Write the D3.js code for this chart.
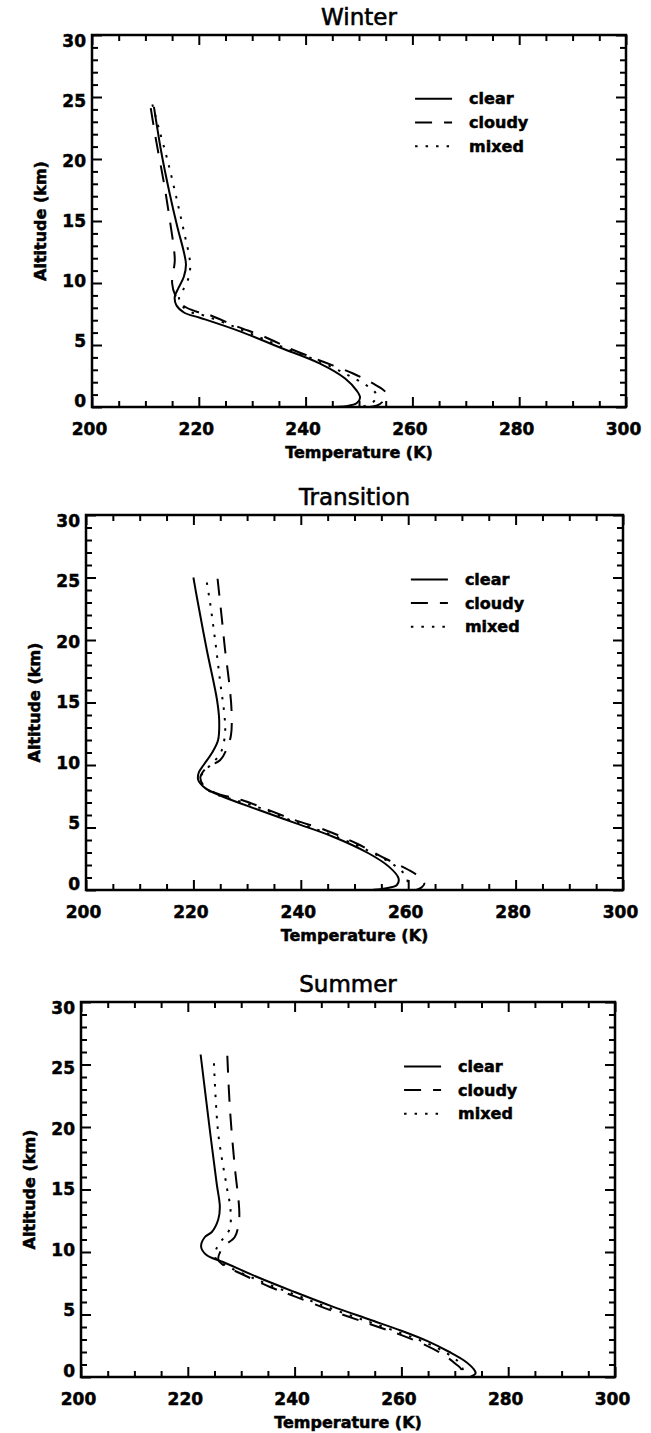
<!DOCTYPE html>
<html>
<head>
<meta charset="utf-8">
<script src="https://cdn.jsdelivr.net/npm/d3@7"></script>
<style>
  body { margin: 0; background: #fff; }
  svg text { font-family: "DejaVu Sans", sans-serif; font-weight: bold; fill: #000; stroke: #000; stroke-width: 0.5px; }
  .tick text { font-size: 17px; }
  .tick line { stroke: #000; stroke-width: 2; }
  text.title { font-weight: normal; stroke-width: 0.6px; }
</style>
</head>
<body>
<div id="container"></div>
<script>
const WIDTH = 651;
const HEIGHT = 1433;

const seasons = ["Winter", "Transition", "Summer"];
const conditions = ["clear", "cloudy", "mixed"];
const xTicks = [200, 220, 240, 260, 280, 300];
const yTicks = [0, 5, 10, 15, 20, 25, 30];

// [temperature K, altitude km], top of profile first
const winterClear = [[211.6,24.2],[213.0,20.5],[214.5,17.3],[216.0,14.5],[217.2,12.5],[217.6,11.5],[217.2,10.5],[216.2,9.6],[215.5,8.9],[215.8,8.2],[217.3,7.6],[220.2,7.2],[227.7,6.1],[235.2,4.8],[242.7,3.5],[247.4,2.3],[249.6,1.3],[250.2,0.75],[249.6,0.32],[247.8,0.08],[243.5,0]];
const winterCloudy = [[211.0,24.1],[212.0,21.5],[213.5,18.0],[214.6,15.0],[215.3,12.9],[215.5,11.8],[215.2,10.8],[215.0,10.0],[215.6,9.0],[217.0,8.2],[219.5,7.7],[221.5,7.5],[227.1,6.5],[232.1,5.7],[237.7,4.6],[243.3,3.65],[248.9,2.7],[252.6,1.9],[254.5,1.4],[255.2,1.0],[254.6,0.5],[253.4,0.12],[252.0,0]];
const winterMixed = [[211.3,24.4],[212.5,22.5],[214.2,19.8],[215.9,16.7],[217.4,13.8],[218.2,12.2],[218.4,11.3],[218.0,10.3],[217.0,9.4],[216.3,8.8],[217.0,8.1],[218.8,7.6],[220.8,7.4],[226.5,6.5],[232.0,5.5],[237.6,4.5],[243.0,3.6],[247.8,2.6],[251.2,1.8],[253.0,1.2],[253.3,0.8],[252.5,0.35],[250.5,0]];

const transClear = [[220.0,25.0],[220.7,23.3],[222.5,19.2],[224.4,15.2],[224.8,13.6],[224.6,12.0],[223.5,11.0],[221.9,10.0],[221.0,9.4],[220.9,8.8],[222.2,8.15],[225.3,7.5],[232.2,6.4],[239.0,5.35],[245.8,4.3],[252.6,2.94],[256.4,1.87],[258.2,0.94],[257.9,0.4],[255.7,0.13],[253.5,0.03]];
const transCloudy = [[224.5,24.9],[225.3,21.7],[225.9,19.2],[226.6,16.8],[227.1,14.4],[227.0,12.4],[226.3,11.4],[225.0,10.4],[222.5,9.8],[221.3,9.0],[222.0,8.3],[224.5,7.7],[229.0,7.2],[238.8,5.6],[244.5,4.8],[250.5,3.7],[255.8,2.5],[260.1,1.6],[262.2,1.0],[263.0,0.5],[262.3,0.15],[261.5,0]];
const transMixed = [[222.5,24.6],[223.1,23.0],[224.1,19.8],[225.0,16.6],[225.8,13.9],[225.9,12.6],[225.3,11.2],[224.1,10.4],[222.3,9.6],[221.3,9.0],[221.8,8.3],[224.0,7.7],[227.0,7.3],[233.5,6.4],[238.0,5.6],[244.5,4.6],[250.3,3.6],[255.0,2.6],[258.0,1.8],[259.6,1.1],[259.9,0.5],[259.4,0]];

const summerClear = [[222.4,25.8],[224.2,19.5],[225.4,15.5],[226.0,13.6],[225.7,12.6],[224.5,11.6],[223.2,11.2],[222.5,10.4],[223.5,9.76],[226.6,9.2],[233.0,8.0],[240.0,6.8],[247.0,5.65],[254.0,4.6],[260.0,3.7],[265.0,2.85],[269.0,2.0],[271.8,1.3],[273.4,0.7],[273.9,0.3],[272.9,0]];
const summerCloudy = [[227.4,25.7],[227.9,21.4],[228.8,16.8],[229.6,13.6],[229.6,12.6],[228.8,11.2],[226.6,10.4],[225.7,9.4],[226.5,9.0],[229.8,8.3],[235.4,7.2],[240.0,6.45],[247.0,5.3],[254.0,4.25],[260.0,3.35],[264.5,2.55],[267.8,1.8],[270.0,1.1],[271.2,0.6],[270.6,0.25],[271.4,0]];
const summerMixed = [[224.9,25.1],[225.7,19.5],[227.3,15.2],[228.0,13.4],[227.8,11.8],[226.3,10.9],[225.3,10.2],[225.2,9.5],[226.8,9.0],[232.3,7.9],[240.0,6.6],[247.0,5.45],[254.0,4.4],[260.0,3.5],[264.8,2.7],[268.5,1.9],[270.7,1.2],[271.5,0.6],[271.5,0.3],[271.9,0]];

const profiles = [
  [winterClear, winterCloudy, winterMixed],
  [transClear, transCloudy, transMixed],
  [summerClear, summerCloudy, summerMixed],
];

// plot boxes in page pixels
const boxes = [
  { left: 92, right: 626, top: 35, bottom: 407 },
  { left: 86, right: 623, top: 515, bottom: 890 },
  { left: 81, right: 615, top: 1002, bottom: 1377 },
];

const dashes = [null, "17,12", "2.5,8"];

const svg = d3.select("#container")
  .append("svg")
  .attr("width", WIDTH)
  .attr("height", HEIGHT);

function drawPanel(i) {
  const box = boxes[i];
  const g = svg.append("g");

  const x = d3.scaleLinear().domain([200, 300]).range([box.left, box.right]);
  const y = d3.scaleLinear().domain([0, 30]).range([box.bottom, box.top]);

  const xMinor = d3.range(200, 301, 5).filter((v) => v % 20 !== 0);
  const yMinor = d3.range(0, 31, 1).filter((v) => v % 5 !== 0);

  const axes = [
    [d3.axisBottom, x, box.bottom, true],
    [d3.axisTop, x, box.top, false],
    [d3.axisLeft, y, box.left, true],
    [d3.axisRight, y, box.right, false],
  ];

  axes.forEach(([axisFn, scale, pos, labelled]) => {
    const horizontal = axisFn === d3.axisBottom || axisFn === d3.axisTop;
    const tr = horizontal ? `translate(0,${pos})` : `translate(${pos},0)`;
    const major = axisFn(scale)
      .tickValues(horizontal ? xTicks : yTicks)
      .tickSize(-10)
      .tickSizeOuter(0)
      .tickPadding(horizontal ? 16 : 6)
      .tickFormat(labelled ? d3.format("d") : "");
    const minor = axisFn(scale)
      .tickValues(horizontal ? xMinor : yMinor)
      .tickSize(-6)
      .tickSizeOuter(0)
      .tickFormat("");
    const ga = g.append("g").attr("transform", tr).call(major);
    g.append("g").attr("transform", tr).call(minor);
    g.selectAll(".domain").remove();
    ga.attr("font-family", null).attr("font-size", null);
    if (axisFn === d3.axisLeft) {
      // labels sit slightly compressed toward the middle of the axis
      ga.selectAll(".tick text").attr("transform", (d) => `translate(0,${(d - 15) * 0.4})`);
    }
    if (axisFn === d3.axisBottom) {
      ga.selectAll(".tick text").attr("transform", "translate(-3,0)");
    }
  });

  g.append("rect")
    .attr("x", box.left)
    .attr("y", box.top)
    .attr("width", box.right - box.left)
    .attr("height", box.bottom - box.top)
    .attr("fill", "none")
    .attr("stroke", "#000")
    .attr("stroke-width", 2.5);

  const line = d3.line()
    .x((d) => x(d[0]))
    .y((d) => y(d[1]))
    .curve(d3.curveCatmullRom.alpha(0.5));

  g.selectAll("path.profile")
    .data(profiles[i])
    .enter()
    .append("path")
    .attr("class", "profile")
    .attr("d", line)
    .attr("fill", "none")
    .attr("stroke", "#000")
    .attr("stroke-width", 2)
    .attr("stroke-dasharray", (d, k) => dashes[k]);

  // legend
  const lx = x(260.5);
  const ly = y(24.85);
  const leg = g.append("g");
  conditions.forEach((c, k) => {
    const yy = ly + k * 23.7;
    leg.append("line")
      .attr("x1", lx).attr("x2", lx + 37)
      .attr("y1", yy).attr("y2", yy)
      .attr("stroke", "#000")
      .attr("stroke-width", 2)
      .attr("stroke-dasharray", dashes[k]);
    leg.append("text")
      .attr("x", lx + 54)
      .attr("y", yy)
      .attr("dy", "0.35em")
      .style("font-size", "16px")
      .text(c);
  });

  g.append("text")
    .attr("class", "title")
    .attr("x", (box.left + box.right) / 2)
    .attr("y", box.top - 10)
    .attr("text-anchor", "middle")
    .style("font-size", "23px")
    .text(seasons[i]);

  g.append("text")
    .attr("x", (box.left + box.right) / 2)
    .attr("y", box.bottom + 51)
    .attr("text-anchor", "middle")
    .style("font-size", "16px")
    .text("Temperature (K)");

  g.append("text")
    .attr("transform", `translate(${box.left - 52},${(box.top + box.bottom) / 2}) rotate(-90)`)
    .attr("text-anchor", "middle")
    .attr("dy", "0.35em")
    .style("font-size", "16px")
    .text("Altitude (km)");
}

seasons.forEach((s, i) => drawPanel(i));
</script>
</body>
</html>
